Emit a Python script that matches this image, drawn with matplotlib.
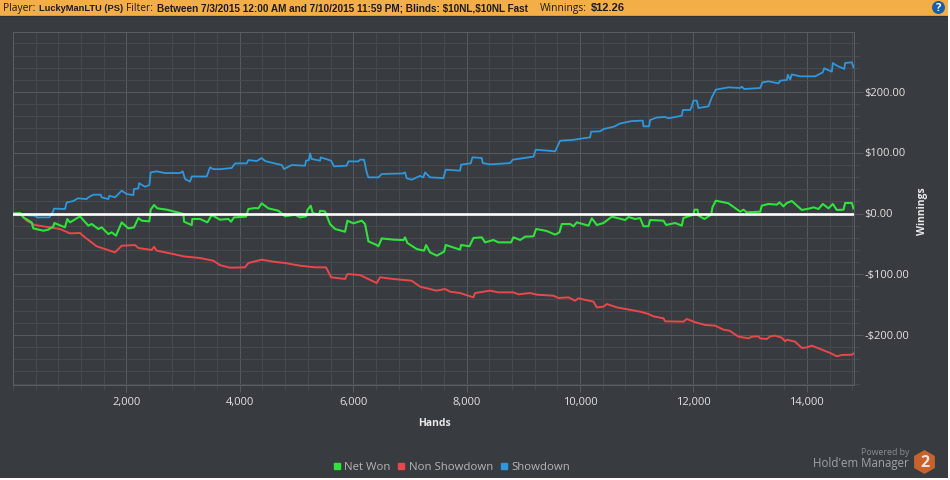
import matplotlib
matplotlib.use('Agg')
import matplotlib.pyplot as plt
from matplotlib.lines import Line2D
from matplotlib.patches import Rectangle, Circle, RegularPolygon
from matplotlib.ticker import MultipleLocator
from matplotlib.transforms import ScaledTranslation

plt.rcParams['text.parse_math'] = False
plt.rcParams['font.family'] = ['Open Sans', 'DejaVu Sans']

showdown_x = [0, 182, 388, 429, 641, 700, 723, 917, 947, 1064, 1141, 1299, 1329, 1417, 1546, 1564, 1682, 1699,
              1799, 1917, 2005, 2123, 2134, 2211, 2223, 2328, 2405, 2428, 2534, 2681, 2946, 2993, 3034, 3122,
              3152, 3416, 3475, 3534, 3651, 3857, 3916, 4121, 4151, 4298, 4386, 4445, 4592, 4739, 4780, 4915,
              5150, 5168, 5221, 5239, 5268, 5415, 5427, 5609, 5662, 5885, 5915, 6091, 6121, 6191, 6238, 6267,
              6444, 6503, 6885, 6914, 6943, 7032, 7179, 7238, 7267, 7355, 7591, 7632, 7885, 7903, 8073, 8103,
              8267, 8285, 8414, 8767, 8814, 9179, 9220, 9443, 9561, 9649, 9855, 10061, 10178, 10196, 10355,
              10414, 10600, 10700, 10900, 11060, 11107, 11119, 11219, 11236, 11354, 11501, 11560, 11795, 11813,
              11942, 11971, 12001, 12060, 12089, 12265, 12324, 12395, 12618, 12824, 12853, 12895, 13177, 13218,
              13324, 13500, 13530, 13647, 13665, 13706, 13735, 13882, 14147, 14282, 14306, 14441, 14459, 14529,
              14659, 14676, 14794, 14823]
showdown_y = [0, -2.5, -3.6, -6.4, -6.4, 2, 8, 7.4, 18.3, 20.5, 25, 23.8, 26.6, 31, 31, 26.6, 23.8, 29.3,
              26.6, 37.6, 32, 30.4, 40.3, 41.4, 50, 44, 47, 67.7, 69.4, 66.6, 66.6, 69.4, 56.8, 52.4,
              61, 61, 76, 73, 73, 74.9, 82.5, 82.5, 88, 86.4, 91.3, 86.4, 83, 79.8, 73.2, 79.8,
              78.7, 87, 88, 99, 89.7, 87, 92.4, 87, 77.6, 78.7, 85.8, 85.8, 88.6, 88.6, 67.7, 59.5,
              59.5, 65, 66, 67.7, 58, 55.7, 62, 59.5, 67.7, 59.5, 58.4, 72.2, 70.5, 80.4, 82.6, 92.5,
              91.4, 83, 80.9, 83, 88.6, 93.6, 105, 103.4, 102.3, 119.9, 121, 123.7, 125.4, 134.7, 135.3,
              139, 143, 148, 152, 152.8, 152.8, 143.5, 143.5, 154, 158, 158.9, 156.7, 161, 170.4,
              170.4, 176.4, 185.8, 185.8, 173.7, 176.4, 191.2, 203.9, 207.7, 206.6, 208.8, 205, 206.6, 215.9,
              217.6, 214.3, 218.7, 219.8, 228.5, 220.3, 229, 225.8, 225.8, 232.4, 239, 233.5, 247.8, 243.4,
              237.9, 247.8, 248.9, 240.6]

net_won_x = [0, 123, 182, 329, 359, 535, 623, 711, 729, 917, 958, 1005, 1182, 1329, 1388, 1505, 1564, 1682,
             1740, 1817, 1917, 2034, 2134, 2211, 2270, 2405, 2428, 2487, 2546, 2711, 2946, 3005, 3017, 3152,
             3163, 3299, 3428, 3505, 3651, 3798, 3845, 3898, 4110, 4151, 4268, 4327, 4386, 4504, 4680, 4798,
             4974, 5062, 5168, 5192, 5251, 5286, 5397, 5415, 5503, 5591, 5680, 5856, 5897, 6003, 6150, 6209,
             6268, 6414, 6444, 6503, 6709, 6885, 6914, 6956, 7120, 7250, 7285, 7355, 7474, 7603, 7632, 7885,
             7903, 8050, 8120, 8267, 8326, 8473, 8561, 8785, 8826, 8944, 9032, 9179, 9226, 9414, 9561, 9637,
             9679, 9826, 9885, 9943, 10149, 10208, 10296, 10414, 10561, 10796, 10855, 10972, 11060, 11119,
             11207, 11236, 11472, 11519, 11677, 11795, 11824, 12001, 12018, 12072, 12089, 12195, 12312, 12336,
             12395, 12618, 12824, 12883, 12942, 13177, 13206, 13324, 13471, 13518, 13588, 13647, 13735, 13912,
             14059, 14118, 14206, 14282, 14382, 14459, 14529, 14647, 14676, 14794, 14823]
net_won_y = [0, 0.8, -6.4, -14.6, -24.5, -28.3, -26.6, -21.2, -15.7, -22.8, -9, -14.6, -4.7, -20, -17.3, -25.5, -22.8, -33.8,
             -31, -36.5, -14.6, -24.5, -22.8, -7.4, -11.8, -12.9, 6.3, 14, 8.5, 6.3, 0.8, -0.9, -13.5, -19,
             -9, -9, -14.6, -2.5, -10.2, -9, -13.5, -6.4, -5.2, 7.4, 9, 8.5, 16.7, 8.5, 4.6, -4.7,
             -2, -6.4, -4.7, 5.7, 12.9, 0.8, -2.5, 4.6, 3.5, -17.3, -25.5, -30, -11.8, -16.2, -11.8, -17.3,
             -45.8, -51.9, -54, -41, -43, -43.7, -39.3, -48.6, -58.5, -61.2, -51.9, -63.9, -69.4, -62.8, -51.8, -59.5,
             -51.8, -54, -40.3, -39.2, -47.5, -43.6, -47.5, -47.5, -39.2, -43.6, -38.1, -37.6, -25.5, -28.8, -34.8, -31,
             -17.3, -17.3, -21.1, -14.5, -20, -7.9, -18.9, -15.6, -5.2, -10.7, -5.8, -9, -7.5, -21,
             -21, -10.7, -11.8, -18.9, -15.6, -20, -7.4, -1.9, 6.3, 6.3, -3.5, -9, -1.9, 10.2,
             21.1, 16.8, 3, 6.3, 1.9, 3, 12.9, 15.7, 14.6, 18.4, 11.8, 17.3, 20.6, 5.8,
             8.5, 10.2, 7.4, 15.7, 8.5, 15.7, 5.8, 6.3, 17.3, 17.3, 8.5]

non_showdown_x = [0, 123, 241, 388, 652, 829, 1005, 1182, 1270, 1476, 1623, 1799, 1917, 2152, 2211, 2446, 2487, 2534,
                  2828, 3005, 3299, 3534, 3651, 3827, 4092, 4151, 4386, 4592, 4798, 5062, 5327, 5521, 5609, 5856,
                  5897, 6121, 6414, 6473, 6709, 7032, 7179, 7355, 7462, 7621, 7709, 7885, 8120, 8150, 8414, 8561,
                  8826, 8914, 9120, 9238, 9532, 9620, 9796, 9914, 9973, 10237, 10296, 10414, 10473, 10649, 11060,
                  11207, 11295, 11472, 11501, 11824, 11883, 12030, 12207, 12383, 12530, 12636, 12795, 12971, 13030,
                  13147, 13177, 13294, 13353, 13441, 13559, 13618, 13647, 13794, 13912, 14000, 14088, 14235, 14412,
                  14529, 14617, 14794, 14823]
non_showdown_y = [0, 0.8, -11.8, -19, -22.8, -25.5, -32.7, -32.1, -39.3, -54, -58.5, -64, -53, -51.9, -56.8, -60, -54.6, -61.2,
                  -66.7, -70.5, -73.3, -77.7, -85, -89.2, -88.6, -81.5, -76, -79.3, -81.5, -85.9, -88.6, -88.6, -105, -107.8,
                  -99.6, -101.3, -114.4, -105, -107.8, -110.6, -120.5, -124.3, -127, -124.3, -128.7, -130.9, -138, -130.9, -127, -129.8,
                  -129.8, -133, -130.9, -133.6, -135.3, -139.1, -138, -143.5, -139.6, -145.1, -154.5, -153.4, -149, -154.5, -161.6,
                  -165.4, -169.3, -172.5, -177.5, -178, -173.6, -179, -183.5, -184.6, -191.2, -192.8, -202.7, -205.5, -202.7,
                  -202.2, -205.5, -206.6, -202.2, -201, -204.4, -210.4, -207.7, -211, -221.4, -220.3, -217.5, -223, -229.6,
                  -235.1, -232.9, -232.4, -230.7]

x_ticks = [2000, 4000, 6000, 8000, 10000, 12000, 14000]
x_labels = ['2,000', '4,000', '6,000', '8,000', '10,000', '12,000', '14,000']
y_ticks = [-200, -100, 0, 100, 200]
y_labels = ['-$200.00', '-$100.00', '$0.00', '$100.00', '$200.00']

bg = '#383b3f'
green = '#2fe33c'
red = '#e9474c'
blue = '#2f97dc'
orange = '#f4ae48'
W, H = 950, 481

fig = plt.figure(figsize=(W / 100, H / 100), dpi=100, facecolor=bg)
ax = fig.add_axes([13 / W, 1 - 386 / H, 841 / W, 353 / H], facecolor=bg)
ax.set_xlim(0, 14832)
ax.set_ylim(-282.3, 298.8)

ax.plot(non_showdown_x, non_showdown_y, color=red, lw=1.4, zorder=3)
ax.plot(net_won_x, net_won_y, color=green, lw=1.5, zorder=4)
ax.plot(showdown_x, showdown_y, color=blue, lw=1.3, zorder=4)
ax.axhline(0, color='white', lw=1.9, zorder=5)

ax.set_xticks(x_ticks, x_labels)
ax.set_yticks(y_ticks, y_labels)
ax.xaxis.set_minor_locator(MultipleLocator(400))
ax.yaxis.set_minor_locator(MultipleLocator(20))
ax.yaxis.tick_right()
ax.set_axisbelow(True)
ax.grid(which='minor', color='#46494d', lw=0.75)
ax.grid(which='major', color='#56595d', lw=0.75)
ax.tick_params(axis='x', which='major', length=5, width=0.75, color='#56595d', labelcolor='#e2e2e2', labelsize=8, pad=3)
ax.tick_params(axis='y', which='major', length=6.5, width=0.75, color='#56595d', labelcolor='#e2e2e2', labelsize=8, pad=1)
ax.tick_params(which='minor', length=3.5, width=0.75, color='#46494d')
for s in ax.spines.values():
    s.set_color('#5a5d61')
    s.set_linewidth(0.75)
# labels sit a little above their gridlines in the original
for lab in ax.get_yticklabels():
    lab.set_transform(lab.get_transform() + ScaledTranslation(0, 1.5 / 100, fig.dpi_scale_trans))

handles = [Line2D([], [], ls='', marker='s', ms=4.5, color=c) for c in (green, red, blue)]
fig.legend(handles, ['Net Won', 'Non Showdown', 'Showdown'], loc='center', bbox_to_anchor=(450 / W, 1 - 468 / H),
           ncol=3, frameon=False, fontsize=8.2, labelcolor='#b5b5b5', handletextpad=0.1, columnspacing=0.4,
           handlelength=1.1)

# overlay in pixel coordinates for the banner, axis titles and logo
ov = fig.add_axes([0, 0, 1, 1], facecolor='none')
ov.set_xlim(0, W)
ov.set_ylim(H, 0)
ov.axis('off')
ov.add_patch(Rectangle((0, 0), W, 17, color=orange, lw=0))
ov.add_patch(Rectangle((0, 15.5), W, 1.5, color='#d99a40', lw=0))
ov.add_patch(Rectangle((0, 17), W, 1, color='#2f3235', lw=0))

banner = [(3, 'Player:', 'normal', 7.4), (39, 'LuckyManLTU (PS)', 'bold', 6.7), (126, 'Filter:', 'normal', 7.4),
          (157, 'Between 7/3/2015 12:00 AM and 7/10/2015 11:59 PM; Blinds: $10NL,$10NL Fast', 'bold', 7.2),
          (540, 'Winnings:', 'normal', 7.4), (591, '$12.26', 'bold', 8)]
for x, s, w, fs in banner:
    fam = 'Liberation Sans' if w == 'bold' else 'Open Sans'
    ov.text(x, 8.5, s, fontsize=fs, fontweight=w, family=fam, color='#1c1c1c', va='center', ha='left')

ov.add_patch(Circle((938.5, 8.5), 6.5, color='#1b5fa5', lw=0))
ov.text(938.5, 8.5, '?', fontsize=8, fontweight='bold', color='white', ha='center', va='center')

ov.text(434.5, 424, 'Hands', fontsize=7.5, fontweight='bold', color='#e8e8e8', ha='center', va='center')
ov.text(923, 211, 'Winnings', fontsize=7.5, fontweight='bold', color='#e8e8e8', rotation=90, ha='center', va='center')

ov.text(909, 453, 'Powered by', fontsize=6.3, color='#8a8d90', ha='right', va='center')
ov.text(909, 464, "Hold'em Manager", fontsize=8.3, color='#a0a3a6', ha='right', va='center')
ov.add_patch(RegularPolygon((924.5, 463), 6, radius=12, color='#c8622a', lw=0))
ov.text(924.5, 463, '2', fontsize=11.5, fontweight='bold', color='#e6e6e6', ha='center', va='center')

# white edge of the screenshot
ov.add_patch(Rectangle((948, 0), 2, H, color='white', lw=0))
ov.add_patch(Rectangle((0, 479), W, 2, color='white', lw=0))

fig.savefig('out.png', dpi=100, facecolor=bg)
